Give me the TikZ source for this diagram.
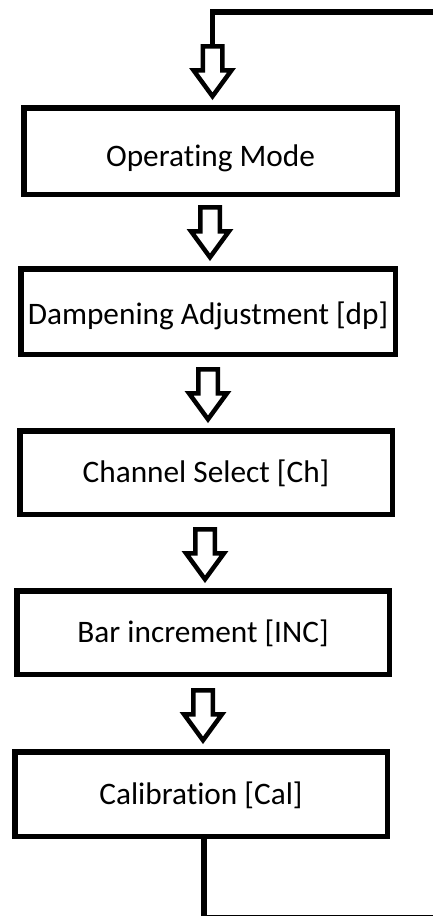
\documentclass[tikz,border=0pt]{standalone}
\usepackage{fontspec}
\setmainfont[Ligatures={NoCommon}]{Carlito}
\begin{document}
\begin{tikzpicture}[x=1pt,y=-1pt,
  box/.style={draw=black, line width=5.5pt, fill=white, rectangle, inner sep=0pt,
    font=\fontsize{31.3}{36}\selectfont, text=black, text height=20pt, text depth=0pt},
  conn/.style={draw=black, line width=5.5pt},
  blockarrow/.pic={\draw[line width=4.5pt, fill=white, line join=miter, miter limit=10]
      (-9.75,0) -- (9.75,0) -- (9.75,24) -- (19,24) -- (0,50) -- (-19,24) -- (-9.75,24) -- cycle;}
]
\useasboundingbox (0,0) rectangle (432,916);
\fill[white] (0,0) rectangle (432,916);

\node[box, minimum width=373.5pt, minimum height=86.5pt, text height=30pt] (b1) at (210.5,151) {Operating Mode};
\node[box, minimum width=374.5pt, minimum height=85.5pt, text height=25pt] (b2) at (208,311.5) {Dampening Adjustment [dp]};
\node[box, minimum width=372.5pt, minimum height=83.5pt] (b3) at (206,472.5) {Channel Select [Ch]};
\node[box, minimum width=372.5pt, minimum height=83.5pt] (b4) at (203,632.5) {Bar increment [INC]};
\node[box, minimum width=372.5pt, minimum height=84.5pt] (b5) at (201,794) {Calibration [Cal]};

\coordinate (a1) at (212.5,46.25);
\coordinate (a2) at (210,207.25);
\coordinate (a3) at (208,369.25);
\coordinate (a4) at (205,529.25);
\coordinate (a5) at (203,690.25);

% feedback loop
\coordinate (topR) at (440,12);
\coordinate (botS) at (204,836);
\coordinate (botR) at (440,917.5);
\draw[conn, line join=miter] (topR) -- (a1 |- topR) -- (a1);
\draw[conn, line join=miter] (botS) -- (botS |- botR) -- (botR);

\pic at (a1) {blockarrow};
\pic at (a2) {blockarrow};
\pic at (a3) {blockarrow};
\pic at (a4) {blockarrow};
\pic at (a5) {blockarrow};
\end{tikzpicture}
\end{document}
